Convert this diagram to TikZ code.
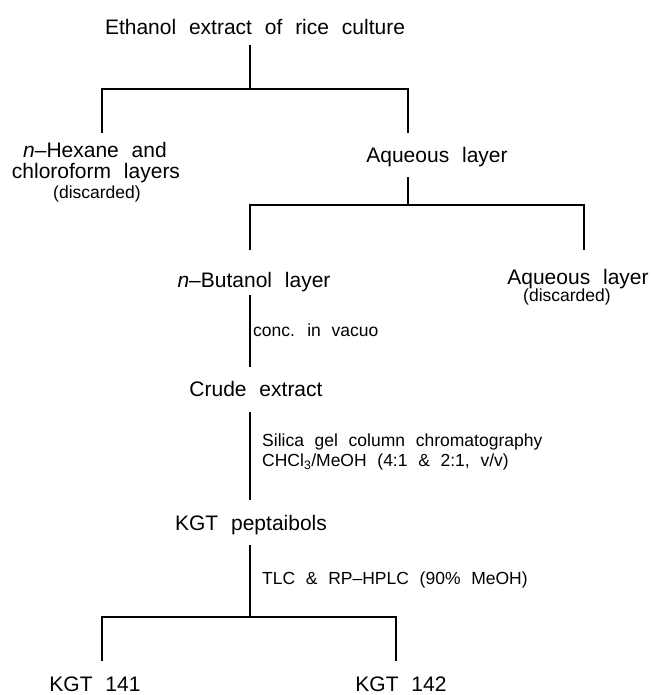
\documentclass[tikz,border=0pt]{standalone}
\usepackage{fontspec}
\setmainfont{Liberation Sans}[WordSpace=2.2]
\begin{document}
\begin{tikzpicture}[x=1pt,y=-1pt,
  big/.style={font=\fontsize{21}{24}\selectfont, inner sep=0pt, anchor=center},
  small/.style={font=\fontsize{17.5}{20}\selectfont, inner sep=0pt},
  ln/.style={line width=1.4pt}]
\useasboundingbox (0,0) rectangle (650,695);
% text nodes
\node[big] (title) at (255,27) {Ethanol extract of rice culture};
\node[big] (hexA) at (95,150) {\textit{n}–Hexane and};
\node[big] (hexB) at (96,173) {chloroform layers};
\node[small] (hexC) at (97,194) {(discarded)};
\node[big] (aq1) at (437,157) {Aqueous layer};
\node[big] (but) at (254,282) {\textit{n}–Butanol layer};
\node[big] (aq2) at (578,279) {Aqueous layer};
\node[small] (aq2d) at (567,297) {(discarded)};
\node[small, anchor=west] (conc) at (253,330) {conc. in vacuo};
\node[big] (crude) at (256,389) {Crude extract};
\node[small, anchor=west] (sil) at (262,442) {Silica gel column chromatography};
\node[small, anchor=west] (chcl) at (262,462) {CHCl\textsubscript{3}/MeOH (4:1 \& 2:1, v/v)};
\node[big] (kgt) at (251,525) {KGT peptaibols};
\node[small, anchor=west] (tlc) at (262,580) {TLC \& RP–HPLC (90\% MeOH)};
\node[big] (k141) at (95,684) {KGT 141};
\node[big] (k142) at (401,684) {KGT 142};
% junction coordinates
\coordinate (t0) at (250,45);
\coordinate (j1) at (250,89);
\coordinate (j1l) at (102,89);
\coordinate (j1r) at (408,89);
\coordinate (e1l) at (102,133);
\coordinate (e1r) at (408,133);
\coordinate (a0) at (408,177);
\coordinate (j2) at (408,205);
\coordinate (j2l) at (250,205);
\coordinate (j2r) at (584,205);
\coordinate (e2l) at (250,250);
\coordinate (e2r) at (584,250);
\coordinate (b0) at (250,295);
\coordinate (b1) at (250,367);
\coordinate (c0) at (250,412);
\coordinate (c1) at (250,500);
\coordinate (k0) at (250,545);
\coordinate (j3) at (250,617);
\coordinate (j3l) at (102,617);
\coordinate (j3r) at (396,617);
\coordinate (e3l) at (102,661);
\coordinate (e3r) at (396,661);
% connectors
\draw[ln] (t0) -- (j1);
\draw[ln] (e1l) -- (j1l) -- (j1r) -- (e1r);
\draw[ln] (a0) -- (j2);
\draw[ln] (e2l) -- (j2l) -- (j2r) -- (e2r);
\draw[ln] (b0) -- (b1);
\draw[ln] (c0) -- (c1);
\draw[ln] (k0) -- (j3);
\draw[ln] (e3l) -- (j3l) -- (j3r) -- (e3r);
\end{tikzpicture}
\end{document}
